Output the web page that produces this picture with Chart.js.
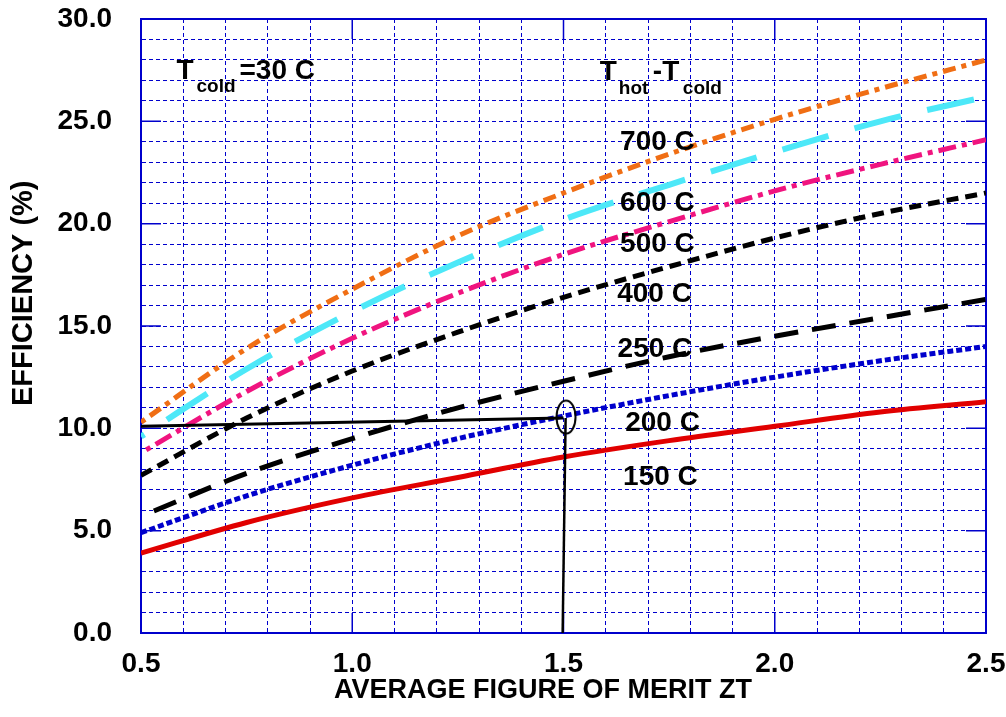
<!DOCTYPE html>
<html>
<head>
<meta charset="utf-8">
<title>Efficiency vs ZT</title>
<script src="https://cdn.jsdelivr.net/npm/chart.js@4.4.1/dist/chart.umd.min.js"></script>
<style>
  html, body { margin: 0; padding: 0; background: #fff; }
  canvas { display: block; }
</style>
</head>
<body>
<canvas id="effChart" width="1006" height="717"></canvas>
<script>
// average figure of merit ZT sample points
const zt = [0.5, 0.75, 1.0, 1.25, 1.5, 1.75, 2.0, 2.25, 2.5];

// efficiency (%) for each Thot - Tcold
const eff150 = [3.9, 5.4, 6.6, 7.6, 8.6, 9.4, 10.1, 10.8, 11.3];
const eff200 = [4.9, 6.7, 8.2, 9.5, 10.6, 11.6, 12.5, 13.3, 14.0];
const eff250 = [5.7, 7.8, 9.5, 11.0, 12.3, 13.5, 14.5, 15.4, 16.3];
const eff400 = [7.7, 10.5, 12.8, 14.7, 16.4, 17.9, 19.3, 20.5, 21.5];
const eff500 = [8.8, 11.8, 14.4, 16.6, 18.5, 20.1, 21.6, 22.9, 24.1];
const eff600 = [9.6, 12.9, 15.7, 18.1, 20.2, 21.9, 23.5, 25.0, 26.2];
const eff700 = [10.3, 13.9, 16.8, 19.4, 21.5, 23.4, 25.1, 26.6, 28.0];

// read-off guide: ZT = 1.5 on the 200 C curve
const guideX = [0.5, 1.5];
const guideY = [10.1, 10.5];
const dropX = [1.498, 1.505];
const dropY = [0, 10.5];
const ringX = [1.506];
const ringY = [10.55];

// tick labels
const yTickLabels = ['0.0', '5.0', '10.0', '15.0', '20.0', '25.0', '30.0'];
const xTickLabels = ['0.5', '1.0', '1.5', '2.0', '2.5'];

const FONT = '"Liberation Sans", Arial, Helvetica, sans-serif';
const GRID_BLUE = '#0000cc';

const pts = (xs, ys) => xs.map((x, i) => ({ x, y: ys[i] }));

const curve = (label, ys, color, dash, width, dashOffset = 0) => ({
    label,
    data: pts(zt, ys),
    borderColor: color,
    borderWidth: width,
    borderDash: dash,
    borderDashOffset: dashOffset,
    borderCapStyle: 'butt',
    pointRadius: 0,
    cubicInterpolationMode: 'monotone',
    fill: false,
    order: 2
});

// open ellipse used as the marker at the read-off point
const ring = document.createElement('canvas');
ring.width = 24;
ring.height = 38;
const rc = ring.getContext('2d');
rc.lineWidth = 2;
rc.strokeStyle = '#000';
rc.beginPath();
rc.ellipse(12, 19, 9.5, 16.5, 0, 0, Math.PI * 2);
rc.stroke();

const datasets = [
    { label: 'guide', data: pts(guideX, guideY), borderColor: '#000', borderWidth: 3, pointRadius: 0, tension: 0, order: 0 },
    { label: 'drop', data: pts(dropX, dropY), borderColor: '#000', borderWidth: 2.5, pointRadius: 0, tension: 0, order: 0 },
    { label: 'ring', data: pts(ringX, ringY), showLine: false, pointStyle: ring, pointRadius: 12, order: 0 },
    curve('150 C', eff150, '#e10000', [], 5),
    curve('200 C', eff200, '#0000cc', [6, 3], 5),
    curve('250 C', eff250, '#000000', [24, 14], 5, 24),
    curve('400 C', eff400, '#000000', [12, 7], 5),
    curve('500 C', eff500, '#f0147f', [18, 6, 5, 6], 5, 18),
    curve('600 C', eff600, '#4de8f8', [48, 27], 6, 44),
    curve('700 C', eff700, '#f06e14', [13, 6, 5, 6], 5, 19)
];

const isStep = (v, step) => Math.abs(v / step - Math.round(v / step)) < 1e-6;

// the plot box is set by layout padding alone
const noScalePadding = s => {
    s.paddingTop = 0;
    s.paddingBottom = 0;
    s.paddingLeft = 0;
    s.paddingRight = 0;
};

// frame, inward major ticks, axis titles and curve labels
const decor = {
    id: 'decor',
    beforeDatasetsDraw(chart) {
        const { ctx, chartArea: a, scales: { x, y } } = chart;
        ctx.save();
        ctx.strokeStyle = GRID_BLUE;
        ctx.lineWidth = 2;
        ctx.strokeRect(a.left, a.top, a.right - a.left, a.bottom - a.top);
        ctx.lineWidth = 1.5;
        ctx.beginPath();
        y.ticks.forEach(t => {
            if (!isStep(t.value, 5)) return;
            const py = y.getPixelForValue(t.value);
            ctx.moveTo(a.left, py); ctx.lineTo(a.left + 20, py);
            ctx.moveTo(a.right - 20, py); ctx.lineTo(a.right, py);
        });
        x.ticks.forEach(t => {
            if (!isStep(t.value, 0.5)) return;
            const px = x.getPixelForValue(t.value);
            ctx.moveTo(px, a.bottom); ctx.lineTo(px, a.bottom - 20);
            ctx.moveTo(px, a.top); ctx.lineTo(px, a.top + 20);
        });
        ctx.stroke();
        ctx.restore();
    },
    afterDatasetsDraw(chart) {
        const { ctx, scales: { x, y } } = chart;
        const put = (text, vx, vy, size, dx = 0, dy = 0) => {
            ctx.font = `bold ${size}px ${FONT}`;
            ctx.fillText(text, x.getPixelForValue(vx) + dx, y.getPixelForValue(vy) + dy);
        };
        ctx.save();
        ctx.fillStyle = '#000';
        ctx.textAlign = 'left';
        ctx.textBaseline = 'alphabetic';

        // T_cold = 30 C
        put('T', 0.584, 27.06, 28);
        put('cold', 0.584, 27.06, 19, 20, 13);
        put('=30 C', 0.584, 27.06, 28, 63);

        // T_hot - T_cold
        put('T', 1.586, 27.0, 28);
        put('hot', 1.586, 27.0, 19, 19, 14);
        put('-T', 1.586, 27.0, 28, 53);
        put('cold', 1.586, 27.0, 19, 83, 14);

        put('700 C', 1.634, 23.6, 28);
        put('600 C', 1.634, 20.63, 28);
        put('500 C', 1.634, 18.63, 28);
        put('400 C', 1.627, 16.18, 28);
        put('250 C', 1.628, 13.5, 28);
        put('200 C', 1.646, 9.88, 28);
        put('150 C', 1.641, 7.23, 28);

        // axis titles
        ctx.textAlign = 'center';
        ctx.textBaseline = 'middle';
        ctx.font = `bold 27px ${FONT}`;
        ctx.fillText('AVERAGE FIGURE OF MERIT ZT', x.getPixelForValue(1.4515), chart.height - 26);
        ctx.translate(24, y.getPixelForValue(16.6));
        ctx.rotate(-Math.PI / 2);
        ctx.font = `bold 29px ${FONT}`;
        ctx.fillText('EFFICIENCY (%)', 0, 0);
        ctx.restore();
    }
};

new Chart(document.getElementById('effChart'), {
    type: 'line',
    data: { datasets },
    options: {
        responsive: false,
        animation: false,
        layout: { padding: { top: 19, right: 20, left: 0, bottom: 0 } },
        plugins: { legend: { display: false }, tooltip: { enabled: false } },
        scales: {
            x: {
                type: 'linear',
                min: 0.5,
                max: 2.5,
                afterFit: s => { s.height = 84; noScalePadding(s); },
                grid: { color: GRID_BLUE, lineWidth: 1, drawTicks: false },
                border: { display: true, color: GRID_BLUE, width: 2, dash: [4, 3] },
                ticks: {
                    stepSize: 0.1,
                    autoSkip: false,
                    maxRotation: 0,
                    maxTicksLimit: 100,
                    padding: 14,
                    color: '#000',
                    font: { family: FONT, size: 28, weight: 'bold' },
                    callback: v => {
                        const lbl = xTickLabels.find(l => Math.abs(parseFloat(l) - v) < 1e-6);
                        return lbl || '';
                    }
                }
            },
            y: {
                type: 'linear',
                min: 0,
                max: 30,
                afterFit: s => { s.width = 141; noScalePadding(s); },
                grid: { color: GRID_BLUE, lineWidth: 1, drawTicks: false },
                border: { display: true, color: GRID_BLUE, width: 2, dash: [4, 3] },
                ticks: {
                    stepSize: 1,
                    autoSkip: false,
                    maxTicksLimit: 100,
                    padding: 29,
                    color: '#000',
                    font: { family: FONT, size: 28, weight: 'bold' },
                    callback: v => {
                        const lbl = yTickLabels.find(l => Math.abs(parseFloat(l) - v) < 1e-6);
                        return lbl || '';
                    }
                }
            }
        }
    },
    plugins: [decor]
});
</script>
</body>
</html>
